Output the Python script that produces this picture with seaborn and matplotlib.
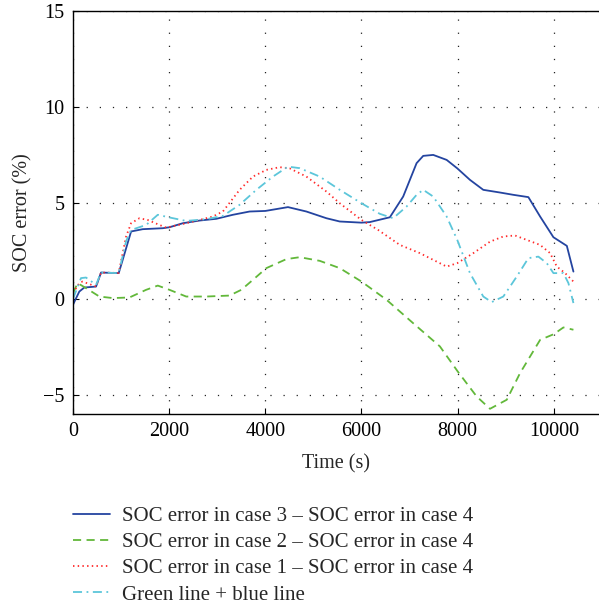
import matplotlib
matplotlib.use("Agg")
import matplotlib.pyplot as plt
import seaborn as sns
import numpy as np

sns.set_theme(style="white")
plt.rcParams['font.family'] = ['Liberation Serif', 'DejaVu Serif']

# Series 1: SOC error case 3 - case 4 (blue, solid)
blue_t = [0, 48, 131, 235, 479, 583, 950, 1033, 1208, 1450, 1867, 2006, 2283, 2631, 2979,
          3325, 3673, 4000, 4471, 4854, 5271, 5548, 6000, 6173, 6590, 6867, 7146, 7284,
          7492, 7771, 7992, 8256, 8533, 8881, 9158, 9471, 9715, 9992, 10271, 10408]
blue_v = [-0.31, -0.05, 0.38, 0.59, 0.64, 1.37, 1.34, 2.03, 3.51, 3.63, 3.68, 3.73, 3.94, 4.08, 4.17,
          4.38, 4.55, 4.58, 4.78, 4.55, 4.2, 4.03, 3.97, 4.0, 4.25, 5.33, 7.07, 7.45,
          7.5, 7.24, 6.8, 6.2, 5.68, 5.54, 5.42, 5.30, 4.29, 3.21, 2.76, 1.42]

# Series 2: SOC error case 2 - case 4 (green, dashed)
green_t = [0, 96, 270, 548, 825, 1173, 1521, 1763, 2006, 2354, 2771, 3256, 3500, 3742,
           4021, 4438, 4715, 5131, 5548, 6000, 6521, 7075, 7631, 8000, 8396, 8673, 9021,
           9298, 9715, 10000, 10200, 10408]
green_v = [0.3, 0.82, 0.56, 0.12, 0.04, 0.07, 0.47, 0.69, 0.47, 0.12, 0.12, 0.17, 0.47, 0.99,
           1.6, 2.07, 2.17, 1.98, 1.6, 0.9, -0.05, -1.27, -2.48, -3.78, -5.09, -5.73, -5.26,
           -3.87, -2.14, -1.84, -1.49, -1.61]

# Series 3: SOC error case 1 - case 4 (red, dotted)
red_t = [0, 131, 200, 479, 583, 950, 1104, 1208, 1381, 1554, 1798, 1938, 2283, 2631, 2908,
         3117, 3465, 3742, 4021, 4298, 4506, 4854, 5271, 5548, 6000, 6346, 6798, 7215,
         7492, 7771, 7992, 8325, 8673, 8950, 9194, 9438, 9715, 9923, 10063, 10235, 10408]
red_v = [0.3, 0.82, 0.9, 0.64, 1.37, 1.35, 3.25, 3.94, 4.2, 4.11, 3.85, 3.71, 3.9, 4.11, 4.29,
         4.55, 5.68, 6.37, 6.72, 6.86, 6.8, 6.37, 5.59, 4.98, 4.11, 3.59, 2.81, 2.38,
         2.03, 1.68, 1.86, 2.38, 2.98, 3.25, 3.3, 3.07, 2.81, 2.38, 1.68, 1.34, 0.9]

# Series 4: green line + blue line (cyan, dash-dot)
cyan_t = [0, 166, 270, 479, 583, 950, 1104, 1208, 1521, 1763, 2006, 2354, 2771, 3117, 3465,
          3813, 4158, 4471, 4715, 5131, 5548, 6000, 6381, 6658, 6938, 7146, 7284, 7492,
          7771, 7992, 8256, 8533, 8708, 8950, 9229, 9471, 9679, 9854, 9992, 10200, 10304, 10408]
cyan_v = [0.0, 1.08, 1.11, 0.73, 1.37, 1.34, 3.0, 3.59, 3.85, 4.38, 4.24, 4.06, 4.15, 4.32, 4.9,
          5.68, 6.37, 6.89, 6.81, 6.37, 5.68, 4.98, 4.43, 4.2, 4.81, 5.42, 5.68, 5.33,
          4.29, 3.07, 1.34, 0.12, -0.17, 0.12, 1.16, 2.12, 2.2, 1.86, 1.34, 1.34, 0.82, -0.22]

labels = ["SOC error in case 3 \u2013 SOC error in case 4",
          "SOC error in case 2 \u2013 SOC error in case 4",
          "SOC error in case 1 \u2013 SOC error in case 4",
          "Green line + blue line"]
xticks = [0, 2000, 4000, 6000, 8000, 10000]
yticks = [-5, 0, 5, 10, 15]

fig = plt.figure(figsize=(5.99, 6.07), dpi=100)
ax = fig.add_axes([0.1219, 0.318, 0.8781, 0.6639])

lw = 1.3
sns.lineplot(x=blue_t, y=blue_v, ax=ax, color="#2444a0", lw=lw, label=labels[0])
sns.lineplot(x=green_t, y=green_v, ax=ax, color="#62b83a", lw=lw, label=labels[1])
sns.lineplot(x=red_t, y=red_v, ax=ax, color="#ff2a2a", lw=lw, label=labels[2])
sns.lineplot(x=cyan_t, y=cyan_v, ax=ax, color="#5cc6da", lw=lw, label=labels[3])
lines = ax.get_lines()
lines[1].set_linestyle((0, (4.5, 3)))
lines[2].set_linestyle((0, (0.8, 1.8)))
lines[3].set_linestyle((0, (5, 2.5, 1, 2.5)))

ax.set_xlim(0, 10940)
ax.set_ylim(-6, 15)
ax.set_xticks(xticks)
ax.set_yticks(yticks)
ax.set_yticklabels(["\u22125", "0", "5", "10", "15"])
ax.grid(True, color="#222222", linestyle=(0, (1, 9.5)), linewidth=0.9)
ax.spines["right"].set_visible(False)
for s in ["left", "bottom", "top"]:
    ax.spines[s].set_visible(True)
    ax.spines[s].set_color("black")
    ax.spines[s].set_linewidth(1.0)
ax.tick_params(axis="both", direction="in", length=4, width=0.8, labelsize=14.5,
               colors="black", bottom=True, left=True, pad=6)
ax.set_xlabel("Time (s)", fontsize=14.5, labelpad=9)
ax.set_ylabel("SOC error (%)", fontsize=14.5, labelpad=8)

h, l = ax.get_legend_handles_labels()
ax.get_legend().remove()
fig.legend(h, l, loc="upper left", bbox_to_anchor=(0.1085, 0.1795), frameon=False,
           fontsize=15, handlelength=1.75, handletextpad=0.6, labelspacing=0.32,
           borderaxespad=0)

fig.savefig("out.png", dpi=100)
